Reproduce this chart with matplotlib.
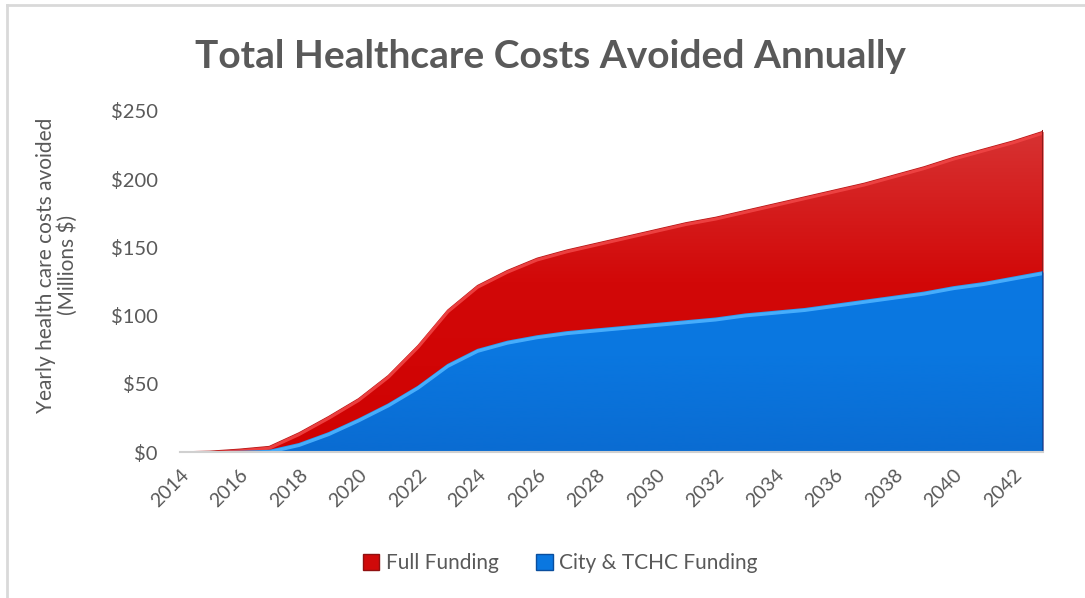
import numpy as np
import matplotlib
matplotlib.use("Agg")
import matplotlib.pyplot as plt
from matplotlib.patches import Patch
from matplotlib.lines import Line2D
from matplotlib.colors import LinearSegmentedColormap

# ---- data ----
years = list(range(2014, 2044))
full_funding = [0, 0.5, 2, 4, 14, 26, 39, 56, 78, 104, 122, 133, 142, 148, 153,
                158, 163, 168, 172, 177, 182, 187, 192, 197, 203, 209, 216, 222, 228, 235]
city_tchc = [0, 0, 0.3, 1, 6, 14, 24, 35, 48, 64, 75, 81, 85, 88, 90,
             92, 94, 96, 98, 101, 103, 105, 108, 111, 114, 117, 121, 124, 128, 132]
yticks = [0, 50, 100, 150, 200, 250]
xticks = list(range(2014, 2043, 2))

title = "Total Healthcare Costs Avoided Annually"
ylabel = "Yearly health care costs avoided\n(Millions $)"
labels = ["Full Funding", "City & TCHC Funding"]

plt.rcParams['font.family'] = ['Lato', 'DejaVu Sans']
grey = '#595959'

fig = plt.figure(figsize=(10.85, 5.98), dpi=100)
ax = fig.add_axes([180/1085, 1-452/598, (1043-180)/1085, (452-111)/598])

x = np.array(years, dtype=float)
full = np.array(full_funding, dtype=float)
city = np.array(city_tchc, dtype=float)

# red area with vertical gradient
red_poly = ax.fill_between(x, 0, full, color='#D20505', lw=0, zorder=1)
red_cmap = LinearSegmentedColormap.from_list('r', ['#D00202', '#D20808', '#D83838'])
grad = np.linspace(0, 1, 256).reshape(-1, 1)
im = ax.imshow(grad, extent=[x[0], x[-1], 0, 250], origin='lower', aspect='auto',
               cmap=red_cmap, zorder=1.5, interpolation='bicubic')
im.set_clip_path(red_poly.get_paths()[0], ax.transData)
ax.plot(x, full, color='#B81818', lw=1.0, zorder=2)
ax.plot(x, full - 1.2, color='#F04545', lw=2.2, zorder=2.1, alpha=0.9)

# blue area
blue_poly = ax.fill_between(x, 0, city, color='#0A77E0', lw=0, zorder=3)
blue_cmap = LinearSegmentedColormap.from_list('b', ['#0A6CD2', '#0A77E0', '#0B78E2'])
im2 = ax.imshow(grad, extent=[x[0], x[-1], 0, 140], origin='lower', aspect='auto',
                cmap=blue_cmap, zorder=3.5, interpolation='bicubic')
im2.set_clip_path(blue_poly.get_paths()[0], ax.transData)
ax.plot(x, city, color='#2E9BF0', lw=1.2, zorder=4)
ax.plot(x, city - 1.2, color='#4DB3FF', lw=2.2, zorder=4.1, alpha=0.9)

# darker right edges
ax.plot([x[-1], x[-1]], [city[-1], full[-1]], color='#8E1A1A', lw=2.2, zorder=5)
ax.plot([x[-1], x[-1]], [0, city[-1]], color='#0A4E9E', lw=2.2, zorder=5)

ax.set_xlim(x[0], x[-1])
ax.set_ylim(0, 250)
ax.set_yticks(yticks)
ax.set_yticklabels([f"${v}" for v in yticks], fontsize=14.5, color=grey)
ax.set_xticks(xticks)
ax.set_xticklabels([str(v) for v in xticks], fontsize=14, color=grey,
                   rotation=45, ha='right', rotation_mode='anchor')
ax.tick_params(axis='y', length=0, pad=16)
ax.tick_params(axis='x', length=0, pad=10)
for s in ['top', 'right', 'left']:
    ax.spines[s].set_visible(False)
ax.spines['bottom'].set_color('#D0D0D0')
ax.spines['bottom'].set_linewidth(1.5)
ax.spines['bottom'].set_zorder(6)

fig.text(57/1085, 1-265/598, ylabel, rotation=90, ha='center', va='center',
         fontsize=15, color=grey, multialignment='center', linespacing=1.1)
fig.text(550/1085, 1-56/598, title, ha='center', va='center', fontsize=28,
         fontweight='bold', color=grey)

handles = [Patch(facecolor='#D00A0A', edgecolor='#901010'),
           Patch(facecolor='#0A77E0', edgecolor='#0A4E9E')]
fig.legend(handles, labels, loc='center', bbox_to_anchor=(560/1085, 1-563/598),
           ncol=2, frameon=False, fontsize=15, labelcolor=grey,
           handlelength=0.8, handleheight=0.8, handletextpad=0.3, columnspacing=1.8)

# chart border
fig.add_artist(Line2D([7/1085, 1], [1-5/598, 1-5/598], color='#D9D9D9', lw=2))
fig.add_artist(Line2D([7/1085, 7/1085], [0, 1-5/598], color='#D9D9D9', lw=2))

fig.savefig('out.png', dpi=100, facecolor='white')
